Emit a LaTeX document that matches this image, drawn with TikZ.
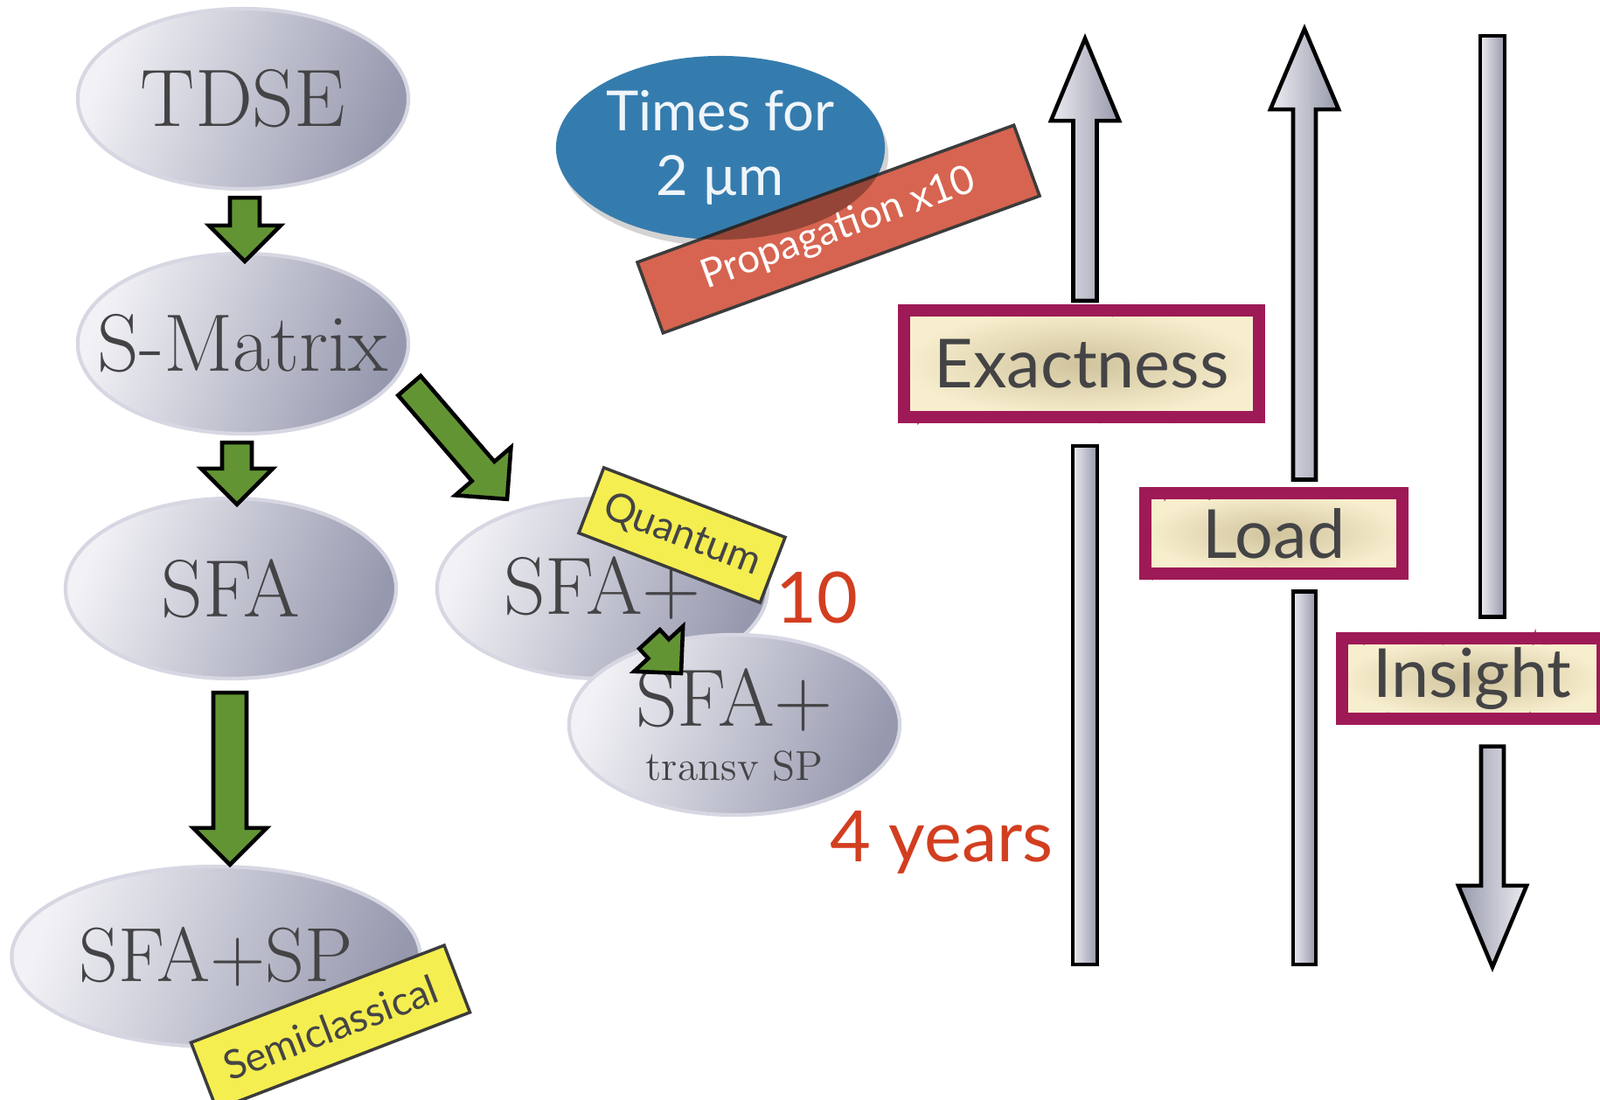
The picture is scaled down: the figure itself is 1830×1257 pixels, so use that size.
\documentclass[tikz,border=0pt]{standalone}
\usepackage{fontspec}
\newfontfamily\gill{Lato}
\usetikzlibrary{calc,shadows,shapes.geometric,decorations.pathmorphing}
\definecolor{ovalhi}{RGB}{242,242,246}
\definecolor{ovallo}{RGB}{150,152,174}
\definecolor{ovalrim}{RGB}{214,215,226}
\definecolor{ink}{RGB}{68,68,70}
\definecolor{leaf}{RGB}{98,148,52}
\definecolor{lemon}{RGB}{245,238,80}
\definecolor{frame}{RGB}{60,60,60}
\definecolor{brick}{RGB}{214,100,80}
\definecolor{sea}{RGB}{53,124,174}
\definecolor{plum}{RGB}{158,26,86}
\definecolor{sandin}{RGB}{208,195,156}
\definecolor{sandout}{RGB}{247,238,206}
\definecolor{barhi}{RGB}{236,236,242}
\definecolor{barlo}{RGB}{150,152,170}
\definecolor{rust}{RGB}{210,62,32}

\newcommand\fatarrow[6]{%
  \coordinate (hb) at ($(#3)!#6!(#2)$);
  \path[#1] ($(#2)!#4!90:(#3)$) -- ($(hb)!#4!90:(#3)$) -- ($(hb)!#5!90:(#3)$) -- (#3)
    -- ($(hb)!#5!-90:(#3)$) -- ($(hb)!#4!-90:(#3)$) -- ($(#2)!#4!-90:(#3)$) -- cycle;}

\begin{document}
\begin{tikzpicture}
		[x=0.01cm,y=-0.01cm,
		oval/.style={ellipse,minimum width=3.78cm,minimum height=2.06cm,inner sep=-1cm,draw=ovalrim,line width=1.2pt,
			top color=ovalhi,bottom color=ovallo,shading angle=70,text=ink,font=\fontsize{26.5}{28}\selectfont},
		garrow/.style={fill=leaf,draw=black,line width=1.3pt,line join=miter},
		graybar/.style={left color=barhi,right color=barlo,draw=black,line width=1.3pt,line join=miter},
		graydown/.style={left color=barlo,right color=barhi,draw=black,line width=1.3pt,line join=miter},
		tape/.style={rectangle,draw=frame,line width=1pt,inner sep=0pt,font=\gill\fontsize{13}{15}\selectfont},
		tag/.style={rectangle,draw=plum,line width=0.14cm,inner sep=0pt,inner color=sandin,outer color=sandout,
			text=ink,font=\gill\fontsize{22}{24}\selectfont,
			postaction={draw=plum,line width=0.7pt,decorate,decoration={random steps,segment length=2pt,amplitude=1.6pt}}},
		num/.style={text=rust,font=\gill\fontsize{23}{25}\selectfont}
		]
		\useasboundingbox (0,0) rectangle (1830,1257);

		\node[oval] (tdse) at (278,113){TDSE};
		\node[oval] (smat) at (278,393){S-Matrix};
		\node[oval] (sfa) at (264,673){SFA};
		\node[oval] (sfap) at (689,673){SFA+};
		\node[oval,align=center] (sfat) at (840,829){SFA+\\[-0.36cm]{\fontsize{13.6}{15}\selectfont transv SP}};
		\node[oval,minimum width=4.67cm,font=\fontsize{25}{27}\selectfont] (sfasp) at (247,1094){SFA+SP};

\coordinate (a1s) at ($(tdse.south)+(2,8)$);
\coordinate (a1e) at ($(smat.north)+(2,11)$);
\coordinate (a2s) at ($(smat.south)+(-7,8)$);
\coordinate (a2e) at ($(sfa.north)+(7,9)$);
\coordinate (a3s) at ($(smat.east)+(-1,48)$);
\coordinate (a3e) at ($(sfap.north)+(-109,3)$);
\coordinate (a4s) at ($(sfa.south)+(-1,14)$);
\coordinate (a4e) at ($(sfasp.north)+(16,0)$);
\coordinate (a5s) at ($(sfap)+(54,58)$);
\coordinate (a5e) at ($(sfap)+(90,97)$);
		\fatarrow{garrow}{a1s}{a1e}{0.17cm}{0.41cm}{0.41cm}
		\fatarrow{garrow}{a2s}{a2e}{0.17cm}{0.41cm}{0.41cm}
		\fatarrow{garrow}{a3s}{a3e}{0.17cm}{0.42cm}{0.42cm}
		\fatarrow{garrow}{a4s}{a4e}{0.19cm}{0.42cm}{0.42cm}
		\fatarrow{garrow}{a5s}{a5e}{0.16cm}{0.38cm}{0.38cm}

		\node[tape,fill=lemon,text=ink,minimum width=2.22cm,minimum height=0.8cm,rotate=-21] (quant) at (780,612){Quantum};
		\node[tape,fill=lemon,text=ink,minimum width=3.1cm,minimum height=0.82cm,rotate=21] (semi) at (378,1175){Semiclassical};

		\node[ellipse,fill=sea,minimum width=3.76cm,minimum height=2.1cm,inner sep=0pt,text=white!92!sea,align=center,
			font=\gill\fontsize{18}{21}\selectfont,drop shadow={opacity=0.35,shadow xshift=0.04cm,shadow yshift=-0.08cm}] (times) at (824,169){Times for\\2 µm};
		\node[tape,fill=brick,text=white,minimum width=4.58cm,minimum height=0.86cm,rotate=20] (prop) at (959,262){Propagation x10};
		\begin{scope}
			\clip (times.center) ellipse [x radius=1.88cm,y radius=1.05cm];
			\fill[black,opacity=0.3] (prop.north west) -- (prop.north east) -- (prop.south east) -- (prop.south west) -- cycle;
		\end{scope}

		\node[num] (ten) at (934,683){10};
		\node[num] (years) at (1077,963){4 years};

		\node[tag,minimum width=4.06cm,minimum height=1.22cm] (exact) at (1237,416){Exactness};
		\node[tag,minimum width=2.93cm,minimum height=0.91cm] (load) at (1457,610){Load};
		\node[tag,minimum width=2.97cm,minimum height=0.91cm] (insight) at (1684,776){Insight};

\coordinate (e1) at ($(exact.north)+(4,-4)$);
\coordinate (e2) at (1241,44);
\coordinate (e3) at ($(exact.south)+(4,26)$);
\coordinate (e4) at (1241,1103);
\coordinate (l1) at ($(load.north)+(35,-9)$);
\coordinate (l2) at (1492,33);
\coordinate (l3) at ($(load.south)+(35,14)$);
\coordinate (l4) at (1492,1103);
\coordinate (i1) at (1707,41);
\coordinate (i2) at ($(insight.north)+(23,-18)$);
\coordinate (i3) at ($(insight.south)+(23,25)$);
\coordinate (i4) at (1707,1106);
		\fatarrow{graybar}{e1}{e2}{0.135cm}{0.39cm}{0.94cm}
		\path[graybar] ($(e3)+(-14,0)$) rectangle ($(e4)+(14,0)$);
		\fatarrow{graybar}{l1}{l2}{0.13cm}{0.39cm}{0.92cm}
		\path[graybar] ($(l3)+(-13,0)$) rectangle ($(l4)+(13,0)$);
		\path[graybar] ($(i1)+(-14,0)$) rectangle ($(i2)+(14,0)$);
		\fatarrow{graydown}{i3}{i4}{0.13cm}{0.39cm}{0.93cm}
	\end{tikzpicture}
\end{document}
